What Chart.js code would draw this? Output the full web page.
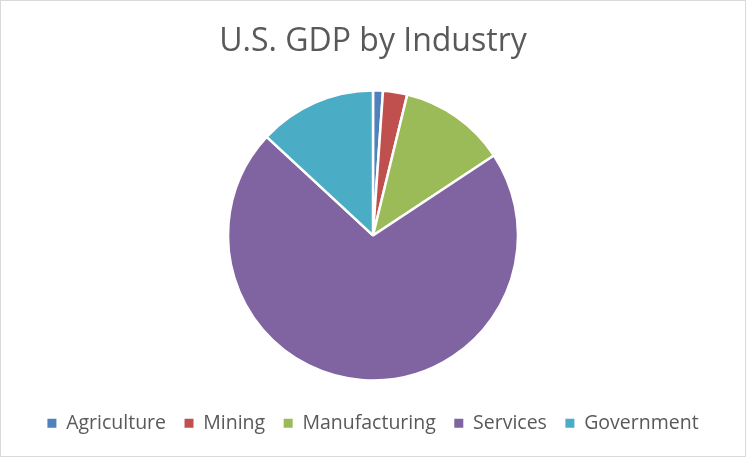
<!DOCTYPE html>
<html>
<head>
<meta charset="utf-8">
<script src="https://cdn.jsdelivr.net/npm/chart.js@4"></script>
<style>
  body { margin: 0; background: #fff; }
  .frame { width: 746px; height: 457px; box-sizing: border-box; border: 1px solid #d9d9d9; }
</style>
</head>
<body>
<div class="frame"><canvas id="piechart" width="744" height="455"></canvas></div>
<script>
// GDP share by industry (%)
const industries = ['Agriculture', 'Mining', 'Manufacturing', 'Services', 'Government'];
const gdpShare = [1.1, 2.7, 11.9, 71.2, 13.1];
const sliceColors = ['#4F81BD', '#C0504D', '#9BBB59', '#8064A2', '#4BACC6'];

const ctxPie = document.getElementById('piechart');

new Chart(ctxPie, {
    type: 'pie',
    data: {
        labels: industries,
        datasets: [{
            data: gdpShare,
            backgroundColor: sliceColors,
            borderColor: '#ffffff',
            borderWidth: 2.5,
            radius: 145
        }]
    },
    options: {
        responsive: false,
        animation: false,
        layout: { padding: { top: 0, bottom: 13 } },
        plugins: {
            title: {
                display: true,
                text: 'U.S. GDP by Industry',
                color: '#595959',
                font: { family: 'Open Sans', size: 32, weight: 'normal' },
                padding: { top: 22, bottom: 14.5 }
            },
            legend: {
                position: 'bottom',
                labels: {
                    color: '#595959',
                    font: { family: 'Open Sans', size: 19.5 },
                    boxWidth: 9,
                    boxHeight: 9,
                    padding: 18.5,
                    // plain filled squares, no white slice border on the legend boxes
                    generateLabels: function(chart) {
                        const items = Chart.overrides.pie.plugins.legend.labels.generateLabels(chart);
                        items.forEach(function(item) { item.lineWidth = 0; });
                        return items;
                    }
                }
            },
            tooltip: { enabled: false }
        }
    }
});
</script>
</body>
</html>
